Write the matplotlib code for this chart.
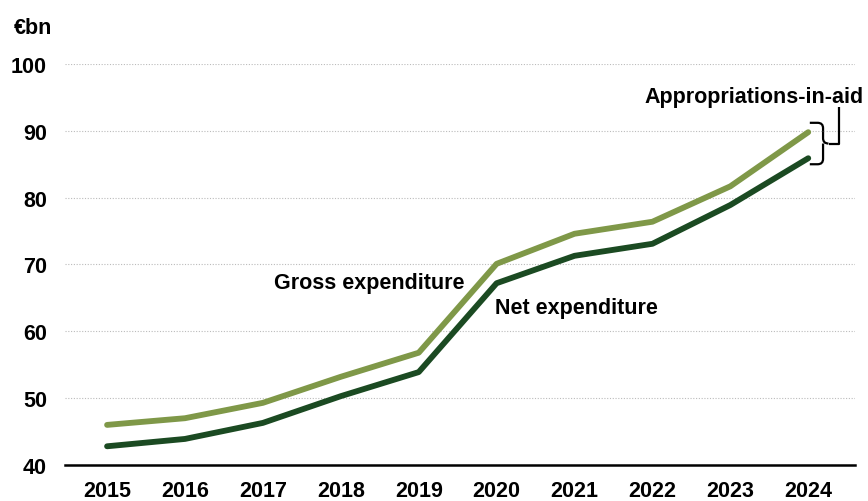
import numpy as np
import matplotlib.pyplot as plt
from matplotlib.path import Path
from matplotlib.patches import PathPatch

plt.rcParams['font.family'] = ['Liberation Sans', 'DejaVu Sans']
plt.rcParams['font.weight'] = 'bold'

years = [2015, 2016, 2017, 2018, 2019, 2020, 2021, 2022, 2023, 2024]
gross = [46.0, 47.0, 49.3, 53.2, 56.8, 70.1, 74.6, 76.4, 81.7, 89.8]
net = [42.8, 43.9, 46.3, 50.3, 53.9, 67.2, 71.3, 73.1, 78.9, 85.9]

gross_col = '#7F9848'
net_col = '#1B4A22'
fs = 15.5

fig = plt.figure(figsize=(8.68, 5.02), dpi=100)
ax = fig.add_axes([65/868, 1 - 466/502, 790/868, 401/502])

ax.plot(years, gross, color=gross_col, lw=4.2, solid_capstyle='round', zorder=3)
ax.plot(years, net, color=net_col, lw=4.2, solid_capstyle='round', zorder=3)

ax.set_xlim(2014.46, 2024.6)
ax.set_ylim(40, 100)
ax.set_yticks(range(40, 101, 10))
ax.set_xticks(years)
ax.tick_params(length=0, labelsize=fs, pad=11)
ax.tick_params(axis='y', pad=13)
for lab in ax.get_xticklabels() + ax.get_yticklabels():
    lab.set_fontweight('bold')

ax.grid(axis='y', color='#BBBBBB', lw=0.8, ls=(0, (1, 1.5)))
for s in ['top', 'right', 'left']:
    ax.spines[s].set_visible(False)
ax.spines['bottom'].set_linewidth(1.8)
ax.spines['bottom'].set_zorder(4)

ax.text(2018.36, 67.3, 'Gross expenditure', fontsize=fs, fontweight='bold',
        ha='center', va='center')
ax.text(2021.03, 63.5, 'Net expenditure', fontsize=fs, fontweight='bold',
        ha='center', va='center')
fig.text(14/868, 1 - 28/502, '€bn', fontsize=fs, fontweight='bold',
         ha='left', va='center')

# curly brace between the two 2024 values
top, bot = gross[-1] + 1.4, net[-1] - 0.9
mid = (top + bot) / 2
x0 = years[-1] + 0.02
x1 = x0 + 0.17
xm = x0 + 0.24
rx, ry = 0.07, 0.8
verts = [(x0, top), (x1 - rx, top), (x1, top), (x1, top - ry),
         (x1, mid + ry), (x1, mid), (xm, mid),
         (x1, mid), (x1, mid - ry),
         (x1, bot + ry), (x1, bot), (x1 - rx, bot), (x0, bot)]
codes = [Path.MOVETO, Path.LINETO, Path.CURVE3, Path.CURVE3,
         Path.LINETO, Path.CURVE3, Path.CURVE3,
         Path.MOVETO, Path.CURVE3,
         Path.LINETO, Path.CURVE3, Path.CURVE3, Path.LINETO]
ax.add_patch(PathPatch(Path(verts, codes), fill=False, lw=1.6,
                       color='black', clip_on=False))
ax.plot([xm, x0 + 0.37, x0 + 0.37], [mid, mid, 93.6],
        color='black', lw=1.6, clip_on=False, solid_capstyle='butt')
ax.text(2023.30, 95.2, 'Appropriations-in-aid', fontsize=fs, fontweight='bold',
        ha='center', va='center')

fig.savefig('out.png', dpi=100)
